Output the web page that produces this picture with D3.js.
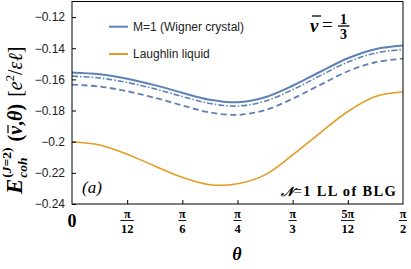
<!DOCTYPE html>
<html lang="en">
<head>
<meta charset="UTF-8">
<title>Coherent energy vs theta</title>
<script src="https://d3js.org/d3.v7.min.js"></script>
<style>
  body { margin: 0; background: #fff; }
  svg { display: block; }
</style>
</head>
<body>
<svg id="chart" width="411" height="269"></svg>
<script>
// theta in degrees, sampled every 7.5 deg
var thetaDeg = [0, 7.5, 15, 22.5, 30, 37.5, 45, 52.5, 60, 67.5, 75, 82.5, 90];
var wignerSolid   = [-0.1555, -0.1567, -0.1596, -0.1637, -0.1686, -0.1731, -0.1747, -0.1715, -0.1641, -0.1551, -0.1464, -0.1406, -0.1383];
var wignerDashDot = [-0.1579, -0.1591, -0.1620, -0.1661, -0.1710, -0.1755, -0.1771, -0.1740, -0.1666, -0.1576, -0.1489, -0.1431, -0.1408];
var wignerDashed  = [-0.1634, -0.1646, -0.1676, -0.1718, -0.1767, -0.1812, -0.1828, -0.1797, -0.1724, -0.1635, -0.1548, -0.1490, -0.1467];
var laughlin      = [-0.2000, -0.2021, -0.2080, -0.2156, -0.2229, -0.2276, -0.2270, -0.2213, -0.2085, -0.1943, -0.1806, -0.1710, -0.1681];

var yTicks = [-0.24, -0.22, -0.2, -0.18, -0.16, -0.14, -0.12];
var yTickLabels = ["\u22120.24", "\u22120.22", "\u22120.2", "\u22120.18", "\u22120.16", "\u22120.14", "\u22120.12"];
var xTicksDeg = [0, 15, 30, 45, 60, 75, 90];
var xTickNum = ["0", "\u03c0", "\u03c0", "\u03c0", "\u03c0", "5\u03c0", "\u03c0"];
var xTickDen = ["", "12", "6", "4", "3", "12", "2"];

var blue = "#5e81b5", orange = "#e19c24";
var serif = "'Liberation Serif', 'Times New Roman', serif";
var sans = "'Liberation Sans', Arial, sans-serif";

var svg = d3.select("#chart");
var pl = 72, pr = 403, pt = 1.5, pb = 204;

var x = d3.scaleLinear().domain([0, 90]).range([pl, pr]);
var y = d3.scaleLinear().domain([-0.24, -0.11]).range([pb, pt]);

var line = d3.line()
    .x(function(d){ return x(d[0]); })
    .y(function(d){ return y(d[1]); })
    .curve(d3.curveCatmullRom.alpha(0.5));

function series(vals){
    return thetaDeg.map(function(t, i){ return [t, vals[i]]; });
}

svg.append("defs").append("clipPath").attr("id", "clip")
    .append("rect").attr("x", pl).attr("y", pt).attr("width", pr - pl).attr("height", pb - pt);

var curves = svg.append("g").attr("clip-path", "url(#clip)");
curves.append("path").attr("d", line(series(wignerDashed)))
    .attr("fill", "none").attr("stroke", blue).attr("stroke-width", 1.8)
    .attr("stroke-dasharray", "6,3.5");
curves.append("path").attr("d", line(series(wignerDashDot)))
    .attr("fill", "none").attr("stroke", blue).attr("stroke-width", 1.6)
    .attr("stroke-dasharray", "6,2,1.5,2");
curves.append("path").attr("d", line(series(wignerSolid)))
    .attr("fill", "none").attr("stroke", blue).attr("stroke-width", 2);
curves.append("path").attr("d", line(series(laughlin)))
    .attr("fill", "none").attr("stroke", orange).attr("stroke-width", 1.6);

// frame
svg.append("rect").attr("x", pl).attr("y", pt).attr("width", pr - pl).attr("height", pb - pt)
    .attr("fill", "none").attr("stroke", "#000").attr("stroke-width", 1);

// y axis ticks (inward) and labels
var yAxis = d3.axisLeft(y).tickValues(yTicks).tickSizeInner(-4).tickSizeOuter(0)
    .tickPadding(7).tickFormat(function(d, i){ return yTickLabels[i]; });
var ya = svg.append("g").attr("transform", "translate(" + pl + ",0)").call(yAxis);
ya.select(".domain").remove();
ya.selectAll("line").attr("stroke", "#000");
ya.selectAll("text").attr("font-family", sans).attr("font-size", 12).attr("fill", "#222");

// x axis ticks (inward), labels drawn as fractions
var xAxis = d3.axisBottom(x).tickValues(xTicksDeg.slice(1, -1)).tickSizeInner(-4).tickSizeOuter(0).tickFormat("");
var xa = svg.append("g").attr("transform", "translate(0," + pb + ")").call(xAxis);
xa.select(".domain").remove();
xa.selectAll("line").attr("stroke", "#000");

xTicksDeg.forEach(function(t, i){
    var cx = x(t);
    if (xTickDen[i] === "") {
        svg.append("text").attr("x", cx).attr("y", 227).attr("text-anchor", "middle")
            .attr("font-family", serif).attr("font-weight", "bold").attr("font-size", 18)
            .text(xTickNum[i]);
        return;
    }
    svg.append("text").attr("x", cx).attr("y", 217.5).attr("text-anchor", "middle")
        .attr("font-family", serif).attr("font-weight", "bold").attr("font-size", 12)
        .text(xTickNum[i]);
    var den = svg.append("text").attr("x", cx).attr("y", 233).attr("text-anchor", "middle")
        .attr("font-family", serif).attr("font-weight", "bold").attr("font-size", 12.5)
        .text(xTickDen[i]);
    var w = Math.max(8, den.node().getComputedTextLength() + 1);
    svg.append("line").attr("x1", cx - w / 2).attr("x2", cx + w / 2)
        .attr("y1", 220.5).attr("y2", 220.5).attr("stroke", "#000").attr("stroke-width", 0.9);
});

// x axis title
svg.append("text").attr("x", 237).attr("y", 260).attr("text-anchor", "middle")
    .attr("font-family", serif).attr("font-style", "italic").attr("font-weight", "bold")
    .attr("font-size", 18).text("\u03b8");

// y axis title, built piece by piece in a rotated group
var yl = svg.append("g").attr("transform", "translate(22,0) rotate(-90)");
var u = -194;
function piece(txt, opts){
    var t = yl.append("text").attr("x", u).attr("y", opts.dy || 0)
        .attr("font-family", serif).attr("font-size", opts.size)
        .attr("font-style", opts.italic ? "italic" : "normal")
        .attr("font-weight", opts.bold ? "bold" : "normal")
        .text(txt);
    var w = t.node().getComputedTextLength();
    if (!opts.noAdvance) u += w;
    return t;
}
piece("E", {size: 23, italic: true, bold: true});
var uSub = u + 1;
u = uSub;
var sup = piece("", {size: 13.5, bold: true, dy: -11, noAdvance: true});
sup.append("tspan").text("(");
sup.append("tspan").attr("font-style", "italic").text("J");
sup.append("tspan").text("=2)");
var w1 = sup.node().getComputedTextLength();
var sub = piece("coh", {size: 13.5, italic: true, bold: true, dy: 4.5, noAdvance: true});
var w2 = sub.node().getComputedTextLength();
u = uSub + Math.max(w1, w2) + 6;
piece("(", {size: 20, bold: true});
var nuStart = u;
piece("\u03bd", {size: 20, italic: true, bold: true});
var wNu = u - nuStart;
yl.append("line").attr("x1", nuStart + 1.5).attr("x2", nuStart + wNu + 1).attr("y1", -14).attr("y2", -14)
    .attr("stroke", "#000").attr("stroke-width", 1.2);
piece(", ", {size: 20, bold: true});
piece("\u03b8", {size: 20, italic: true, bold: true});
piece(")", {size: 20, bold: true});
u += 7;
piece("[", {size: 20});
piece("e", {size: 20, italic: true});
piece("2", {size: 12.5, dy: -8.5});
piece("/", {size: 20});
piece("\u03b5\u2113", {size: 20, italic: true});
piece("]", {size: 20});

// legend
var legend = [["M=1 (Wigner crystal)", blue, 26.7], ["Laughlin liquid", orange, 54]];
legend.forEach(function(d){
    svg.append("line").attr("x1", 109).attr("x2", 128).attr("y1", d[2]).attr("y2", d[2])
        .attr("stroke", d[1]).attr("stroke-width", 2);
    svg.append("text").attr("x", 133).attr("y", d[2] + 4.3)
        .attr("font-family", sans).attr("font-size", 12).attr("fill", "#222").text(d[0]);
});

// nu-bar = 1/3
var nu = svg.append("g");
nu.append("text").attr("x", 310).attr("y", 32).attr("font-family", serif)
    .attr("font-style", "italic").attr("font-weight", "bold").attr("font-size", 19).text("\u03bd");
nu.append("line").attr("x1", 312).attr("x2", 321).attr("y1", 16).attr("y2", 16)
    .attr("stroke", "#000").attr("stroke-width", 1.3);
nu.append("text").attr("x", 322).attr("y", 31).attr("font-family", serif)
    .attr("font-size", 19).text("=");
nu.append("text").attr("x", 343.5).attr("y", 23.5).attr("text-anchor", "middle").attr("font-family", serif)
    .attr("font-weight", "bold").attr("font-size", 14).text("1");
nu.append("line").attr("x1", 338).attr("x2", 349.5).attr("y1", 26).attr("y2", 26)
    .attr("stroke", "#000").attr("stroke-width", 1.3);
nu.append("text").attr("x", 343.5).attr("y", 39).attr("text-anchor", "middle").attr("font-family", serif)
    .attr("font-weight", "bold").attr("font-size", 14).text("3");

// panel label and system label
svg.append("text").attr("x", 82).attr("y", 193).attr("font-family", serif)
    .attr("font-style", "italic").attr("font-size", 17).text("(a)");
var sys = svg.append("text").attr("x", 397).attr("y", 196).attr("text-anchor", "end")
    .attr("font-family", serif).attr("font-weight", "bold").attr("font-size", 14.5)
    .attr("letter-spacing", 1.3);
sys.append("tspan").attr("font-style", "italic").attr("font-family", "'DejaVu Serif', serif")
    .attr("font-size", 13).text("\ud835\udca9");
sys.append("tspan").attr("font-weight", "normal").text("=");
sys.append("tspan").text("1 LL of BLG");
</script>
</body>
</html>
